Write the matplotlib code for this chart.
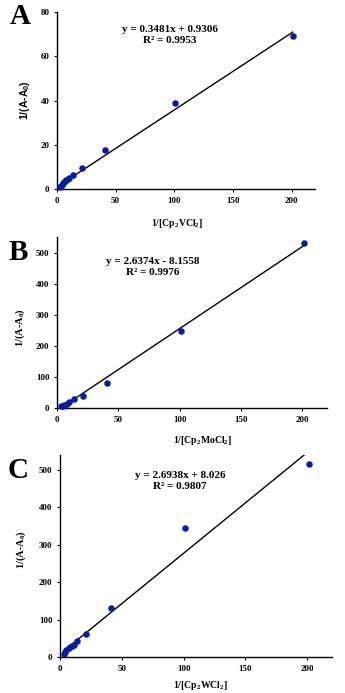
import matplotlib
matplotlib.use("Agg")
import matplotlib.pyplot as plt
import numpy as np

plt.rcParams["font.family"] = ["Liberation Serif", "DejaVu Serif"]
plt.rcParams["font.weight"] = "bold"
plt.rcParams["mathtext.default"] = "regular"

# Panel A: Cp2VCl2
x_a = [2.5, 3, 4, 5, 6, 7, 8, 9, 10, 14, 21, 41, 101, 201]
y_a = [1.0, 1.5, 2.0, 2.5, 3.0, 3.5, 4.0, 4.5, 5.0, 6.5, 9.7, 17.8, 38.7, 69.0]
slope_a, icpt_a, r2_a = 0.3481, 0.9306, 0.9953

# Panel B: Cp2MoCl2
x_b = [3, 5, 6, 8, 10, 14, 21, 41, 101, 201]
y_b = [5, 8, 10, 14, 18, 28, 40, 80, 247, 530]
slope_b, icpt_b, r2_b = 2.6374, -8.1558, 0.9976

# Panel C: Cp2WCl2
x_c = [3, 4, 5, 7, 8, 10, 11, 14, 21, 41, 101, 201]
y_c = [9, 14, 18, 25, 28, 30, 31, 42, 62, 131, 345, 515]
slope_c, icpt_c, r2_c = 2.6938, 8.026, 0.9807

xticks = [0, 50, 100, 150, 200]

W, H = 345, 693
fig = plt.figure(figsize=(W / 100, H / 100), dpi=100)


def box(left, right, top, bottom):
    return [left / W, 1 - bottom / H, (right - left) / W, (bottom - top) / H]


panels = [
    dict(rect=box(57, 315, 12, 189), x=x_a, y=y_a, m=slope_a, b=icpt_a, r2=r2_a,
         ylim=80, yticks=[0, 20, 40, 60, 80], letter="A", lpos=(20, 17),
         xlabel="1/[Cp$_2$VCl$_2$]", xl=(0.465, -0.16),
         ylabel="1/(A-A$_0$)", yl=(-0.097, 0.503), yfam=["Liberation Sans"],
         eq=(170, 28)),
    dict(rect=box(57, 327, 237, 408), x=x_b, y=y_b, m=slope_b, b=icpt_b, r2=r2_b,
         ylim=550, yticks=[0, 100, 200, 300, 400, 500], letter="B", lpos=(18, 253),
         xlabel="1/[Cp$_2$MoCl$_2$]", xl=(0.54, -0.15),
         ylabel="1/(A-A$_0$)", yl=(-0.111, 0.47), yfam=["Liberation Serif"],
         eq=(153, 260)),
    dict(rect=box(60, 332, 455, 657), x=x_c, y=y_c, m=slope_c, b=icpt_c, r2=r2_c,
         ylim=540, yticks=[0, 100, 200, 300, 400, 500], letter="C", lpos=(18, 470),
         xlabel="1/[Cp$_2$WCl$_2$]", xl=(0.515, -0.11),
         ylabel="1/(A-A$_0$)", yl=(-0.118, 0.53), yfam=["Liberation Serif"],
         eq=(180, 474)),
]

for p in panels:
    ax = fig.add_axes(p["rect"])
    x = np.array(p["x"], dtype=float)
    y = np.array(p["y"], dtype=float)
    ax.scatter(x, y, s=22, color="#0a1c9e", zorder=3, clip_on=False, linewidths=0)
    xf = np.array([x.min(), x.max()])
    ax.plot(xf, p["m"] * xf + p["b"], color="black", lw=1.0, zorder=2)
    ax.set_xlim(0, 220)
    ax.set_ylim(0, p["ylim"])
    ax.set_xticks(xticks)
    ax.set_yticks(p["yticks"])
    for s in ["top", "right"]:
        ax.spines[s].set_visible(False)
    for s in ["left", "bottom"]:
        ax.spines[s].set_linewidth(1.0)
    ax.tick_params(direction="out", length=2.5, width=0.8, labelsize=6.5, pad=3)
    for lab in ax.get_xticklabels() + ax.get_yticklabels():
        lab.set_fontweight("bold")
    ax.set_xlabel(p["xlabel"], fontsize=7, fontweight="bold")
    ax.xaxis.set_label_coords(*p["xl"])
    ax.set_ylabel(p["ylabel"], fontsize=7.5, fontweight="bold", family=p["yfam"])
    ax.yaxis.set_label_coords(*p["yl"])
    sign = "+" if p["b"] >= 0 else "-"
    eq = f"y = {p['m']:.4f}x {sign} {abs(p['b']):g}\nR² = {p['r2']:.4f}"
    fig.text(p["eq"][0] / W, 1 - (p["eq"][1] + 7) / H, eq, ha="center", va="center",
             fontsize=8, fontweight="bold", linespacing=1.15)
    fig.text(p["lpos"][0] / W, 1 - p["lpos"][1] / H, p["letter"], ha="center",
             va="center", fontsize=21, fontweight="bold")

fig.savefig("out.png", dpi=100)
